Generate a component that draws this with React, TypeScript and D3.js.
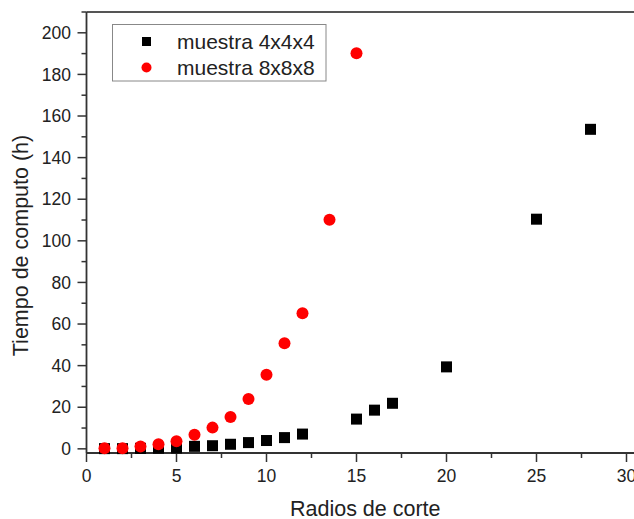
import React from "react";
import * as d3 from "d3";

// Cut-off radius vs. computation time (hours)
const radios4 = [1, 2, 3, 4, 5, 6, 7, 8, 9, 10, 11, 12, 15, 16, 17, 20, 25, 28];
const tiempo4 = [0.1, 0.1, 0.2, 0.3, 0.4, 1.2, 1.5, 2.2, 3.0, 4.0, 5.4, 7.1, 14.3, 18.6, 21.9, 39.4, 110.4, 153.6];

const radios8 = [1, 2, 3, 4, 5, 6, 7, 8, 9, 10, 11, 12, 13.5, 15];
const tiempo8 = [0.3, 0.3, 1.1, 2.2, 3.7, 6.8, 10.2, 15.3, 24.0, 35.6, 50.8, 65.2, 110.1, 190.2];

const xMajorTicks = [0, 5, 10, 15, 20, 25, 30];
const yMajorTicks = [0, 20, 40, 60, 80, 100, 120, 140, 160, 180, 200];

const seriesNames = ["muestra 4x4x4", "muestra 8x8x8"];

const W = 634;
const H = 519;
const FONT = "'Liberation Sans', Arial, Helvetica, sans-serif";

export default function App() {
  const left = 86.5;
  const right = 635.5;
  const top = 12;
  const bottom = 453;

  const x = d3.scaleLinear().domain([0, 30.5]).range([left, right]);
  const y = d3.scaleLinear().domain([-2, 210]).range([bottom, top]);

  const xMinor = d3.range(0, 30.01, 2.5).filter((v) => v % 5 !== 0);
  const yMinor = d3.range(0, 210.01, 10).filter((v) => v % 20 !== 0);

  const sq = 11;
  const r = 6;
  const axisColor = "#333";

  return (
    <svg
      width={W}
      height={H}
      style={{ position: "absolute", left: 0, top: 0, background: "#fff" }}
      fontFamily={FONT}
    >
      <rect x={0} y={0} width={W} height={H} fill="#fff" />

      {/* frame */}
      <line x1={left} x2={W} y1={top} y2={top} stroke="#555" strokeWidth={2} />
      <line x1={left} x2={left} y1={top} y2={bottom} stroke={axisColor} strokeWidth={1.8} />
      <line x1={left} x2={W} y1={bottom} y2={bottom} stroke={axisColor} strokeWidth={1.8} />

      {/* y ticks */}
      {yMajorTicks.map((v) => (
        <g key={"ym" + v}>
          <line x1={left - 9} x2={left} y1={y(v)} y2={y(v)} stroke={axisColor} strokeWidth={1.5} />
          <text
            x={71}
            y={y(v)}
            dy="0.35em"
            textAnchor="end"
            fontSize={17.5}
            fill="#222"
          >
            {v}
          </text>
        </g>
      ))}
      {yMinor.map((v) => (
        <line key={"yn" + v} x1={left - 5} x2={left} y1={y(v)} y2={y(v)} stroke={axisColor} strokeWidth={1.5} />
      ))}

      {/* x ticks */}
      {xMajorTicks.map((v) => (
        <g key={"xm" + v}>
          <line x1={x(v)} x2={x(v)} y1={bottom} y2={bottom + 9} stroke={axisColor} strokeWidth={1.5} />
          <text x={x(v)} y={482} textAnchor="middle" fontSize={17.5} fill="#222">
            {v}
          </text>
        </g>
      ))}
      {xMinor.map((v) => (
        <line key={"xn" + v} x1={x(v)} x2={x(v)} y1={bottom} y2={bottom + 5} stroke={axisColor} strokeWidth={1.5} />
      ))}

      {/* axis titles */}
      <text x={(left + 634) / 2 + 5} y={516} textAnchor="middle" fontSize={21.5} fill="#222">
        Radios de corte
      </text>
      <text
        transform={`translate(28, 245.5) rotate(-90)`}
        textAnchor="middle"
        fontSize={21.5}
        fill="#222"
      >
        Tiempo de computo (h)
      </text>

      {/* series 4x4x4 */}
      {radios4.map((rv, i) => (
        <rect
          key={"s4" + i}
          x={x(rv) - sq / 2}
          y={y(tiempo4[i]) - sq / 2}
          width={sq}
          height={sq}
          fill="#000"
        />
      ))}

      {/* series 8x8x8 */}
      {radios8.map((rv, i) => (
        <circle key={"s8" + i} cx={x(rv)} cy={y(tiempo8[i])} r={r} fill="#ff0000" />
      ))}

      {/* legend */}
      <g>
        <rect x={112.5} y={24.5} width={213.5} height={56.5} fill="#fff" stroke="#888" strokeWidth={1} />
        <rect x={146.5 - 4.5} y={41.5 - 4.5} width={9} height={9} fill="#000" />
        <circle cx={146.5} cy={67.5} r={5} fill="#ff0000" />
        <text x={177} y={41.5} dy="0.35em" fontSize={21} fill="#222">
          {seriesNames[0]}
        </text>
        <text x={177} y={67.5} dy="0.35em" fontSize={21} fill="#222">
          {seriesNames[1]}
        </text>
      </g>
    </svg>
  );
}
